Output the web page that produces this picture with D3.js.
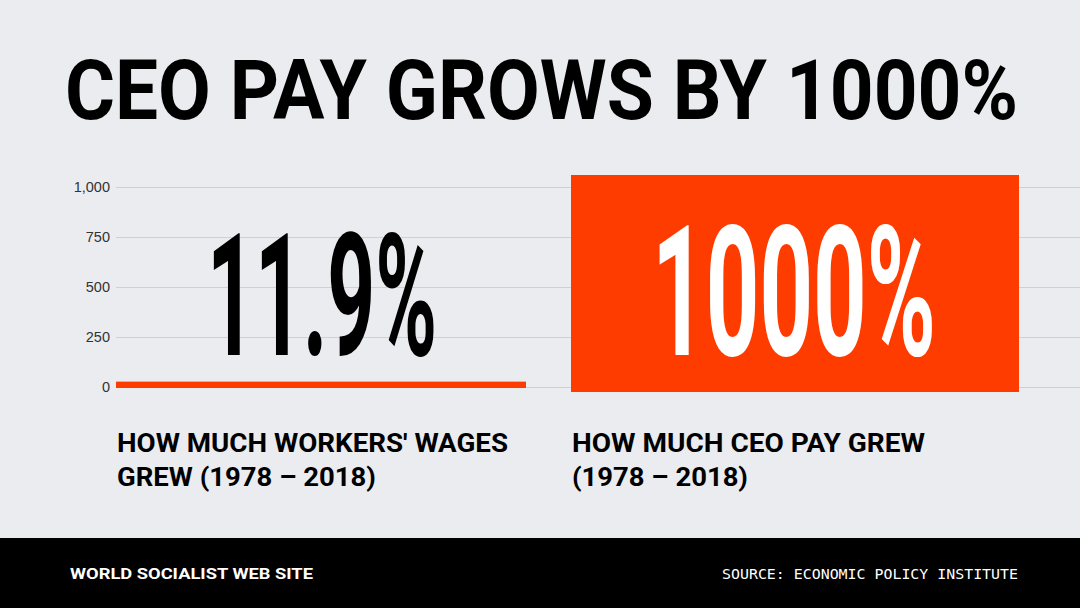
<!DOCTYPE html>
<html><head><meta charset="utf-8">
<script src="https://cdn.jsdelivr.net/npm/d3@7"></script>
<style>body{margin:0;background:#ebecf0}svg{display:block}</style>
</head><body><svg id="c" width="1080" height="608"></svg>
<script>
const categories = ["HOW MUCH WORKERS' WAGES|GREW (1978 – 2018)", "HOW MUCH CEO PAY GREW|(1978 – 2018)"];
const values = [11.9, 1000];
const valueLabels = ["11.9%", "1000%"];
const tickValues = [0, 250, 500, 750, 1000];
const title = "CEO PAY GROWS BY 1000%";
const footerLeft = "WORLD SOCIALIST WEB SITE";
const footerRight = "SOURCE: ECONOMIC POLICY INSTITUTE";

const svg = d3.select("#c");
svg.append("rect").attr("width",1080).attr("height",608).attr("fill","#ebecf0");
const y = d3.scaleLinear().domain([0,1000]).range([387,187]);
const x = d3.scaleOrdinal().domain([0,1]).range([[116,526],[571,1019]]);
const F = "Roboto, 'DejaVu Sans', sans-serif";

svg.append("text").attr("x",65).attr("y",119).attr("textLength",953).attr("lengthAdjust","spacingAndGlyphs")
  .attr("font-family",F).attr("font-weight",700).attr("font-size",84).attr("fill","#000").text(title);

const ax = svg.append("g").attr("transform","translate(116,0)")
  .call(d3.axisLeft(y).tickValues(tickValues).tickSize(-964).tickFormat(d3.format(",")));
ax.select(".domain").remove();
ax.selectAll("line").attr("stroke","#cfd0d4");
ax.selectAll("text").attr("font-family","'Liberation Sans', Arial, sans-serif").attr("font-size",14.5).attr("fill","#333").attr("x",-6);

values.forEach((v,i)=>{
  const [x0,x1]=x(i);
  if(i===0){
    svg.append("rect").attr("x",x0).attr("width",x1-x0).attr("y",y(v)-3).attr("height",y(0)-y(v)+4).attr("fill","#ff3c00");
  } else {
    svg.append("rect").attr("x",x0).attr("width",x1-x0).attr("y",y(v)-12).attr("height",y(0)-y(v)+17).attr("fill","#ff3c00");
  }
});

const vl = [{x:207,w:230,c:"#000",top:233},{x:652,w:284,c:"#fff",top:226}];
valueLabels.forEach((t,i)=>{
  svg.append("text").attr("x",vl[i].x).attr("y",355).attr("textLength",vl[i].w).attr("lengthAdjust","spacingAndGlyphs")
   .attr("font-family",F).attr("font-weight",700).attr("font-size",(355-vl[i].top)/0.711).attr("fill",vl[i].c).text(t);
});

const lineW = [[391,259],[353,176]];
categories.forEach((c,i)=>{
  const lines=c.split("|");
  const t=svg.append("text").attr("font-family",F).attr("font-weight",700).attr("font-size",25).attr("fill","#000");
  lines.forEach((l,j)=>t.append("tspan").attr("x",x(i)[0]+1).attr("y",452+j*34)
    .attr("textLength",lineW[i][j]).attr("lengthAdjust","spacingAndGlyphs").text(l));
});

svg.append("rect").attr("y",538).attr("width",1080).attr("height",70).attr("fill","#000");
svg.append("text").attr("x",70).attr("y",579).attr("font-family",F).attr("font-weight",700).attr("font-size",15)
  .attr("textLength",243).attr("lengthAdjust","spacingAndGlyphs").attr("fill","#fff").text(footerLeft);
svg.append("text").attr("x",1018).attr("y",579).attr("text-anchor","end").attr("font-family","'DejaVu Sans Mono', monospace")
  .attr("font-size",14).attr("textLength",296).attr("lengthAdjust","spacingAndGlyphs").attr("fill","#fff").text(footerRight);
</script></body></html>
